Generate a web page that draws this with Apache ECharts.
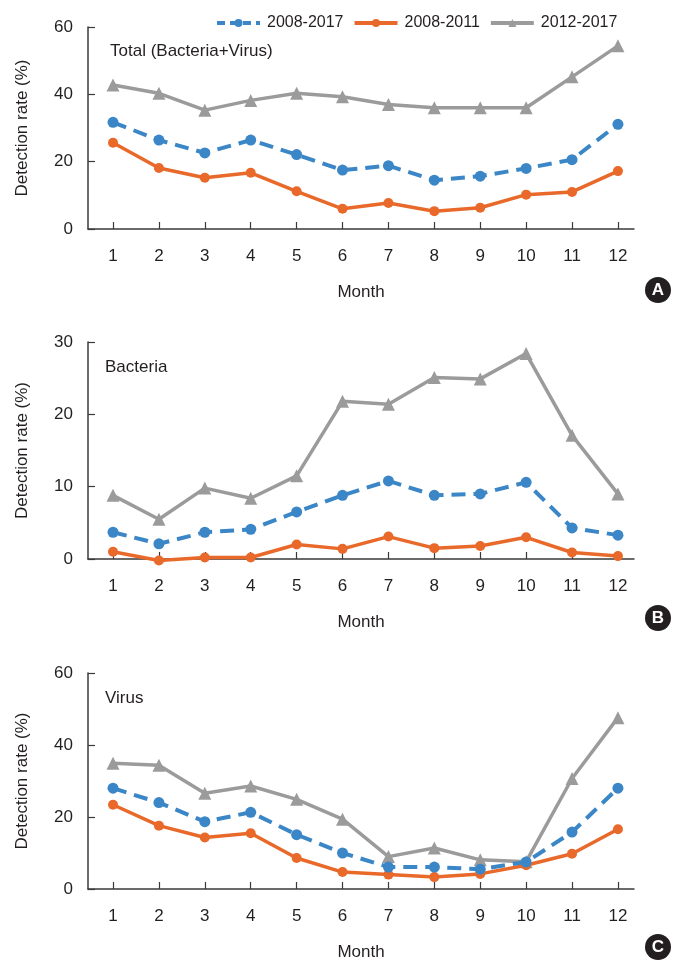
<!DOCTYPE html>
<html>
<head>
<meta charset="utf-8">
<script src="https://cdn.jsdelivr.net/npm/echarts@6/dist/echarts.min.js"></script>
<style>html,body{margin:0;padding:0;background:#fff}#c{width:684px;height:962px}</style>
</head>
<body>
<div id="c"></div>
<script>
// ---- data ----
const months = [1,2,3,4,5,6,7,8,9,10,11,12];
const seriesNames = ['2008-2017','2008-2011','2012-2017'];
const panelTitles = ['Total (Bacteria+Virus)','Bacteria','Virus'];
const monthTicks = [1,2,3,4,5,6,7,8,9,10,11,12];

const totalAll   = [31.7,26.4,22.6,26.4,22.1,17.5,18.8,14.5,15.7,18.0,20.6,31.1];
const totalEarly = [25.6,18.1,15.2,16.7,11.2,6.0,7.7,5.3,6.3,10.2,11.0,17.2];
const totalLate  = [42.8,40.3,35.3,38.2,40.3,39.3,37.0,36.0,36.0,36.0,45.2,54.4];

const bactAll    = [3.7,2.1,3.7,4.1,6.5,8.8,10.8,8.8,9.0,10.6,4.3,3.3];
const bactEarly  = [1.0,-0.2,0.2,0.2,2.0,1.4,3.1,1.5,1.8,3.0,0.9,0.4];
const bactLate   = [8.8,5.5,9.8,8.4,11.5,21.8,21.4,25.1,24.9,28.4,17.1,9.0];

const virusAll   = [28.0,24.0,18.7,21.3,15.1,10.0,6.1,6.1,5.5,7.5,15.8,28.0];
const virusEarly = [23.4,17.6,14.3,15.5,8.6,4.7,4.0,3.3,4.2,6.6,9.8,16.6];
const virusLate  = [34.9,34.4,26.6,28.6,24.9,19.4,9.0,11.4,8.1,7.6,30.7,47.6];

const yMax = [60,30,60];
const yInterval = [20,10,20];

// ---- styles ----
const FONT = '"Liberation Sans", Arial, sans-serif';
const TXT = '#231f20';
const AX = '#3a3a3a';
const BLUE = '#3b86c6', ORANGE = '#e8692a', GRAY = '#9b9b9b';

const grids = [
  {left:88, right:50, top:27,  height:202},
  {left:88, right:50, top:342, height:217},
  {left:88, right:50, top:673, height:216}
];

const panels = [
  [totalAll,totalEarly,totalLate],
  [bactAll,bactEarly,bactLate],
  [virusAll,virusEarly,virusLate]
];

const xAxes = grids.map((g,i)=>({
  type:'value', gridIndex:i, min:0.455, max:12.35,
  name:'Month', nameLocation:'middle', nameGap:55,
  nameTextStyle:{fontSize:17, color:TXT, fontFamily:FONT},
  axisLine:{show:true, lineStyle:{color:AX, width:1.5}},
  axisTick:{show:true, inside:true, length:7, lineStyle:{color:AX, width:1.2}, customValues:monthTicks},
  axisLabel:{fontSize:17, color:TXT, fontFamily:FONT, margin:19, customValues:monthTicks},
  splitLine:{show:false}
}));

const yAxes = grids.map((g,i)=>({
  type:'value', gridIndex:i, min:0, max:yMax[i], interval:yInterval[i],
  name:'Detection rate (%)', nameLocation:'middle', nameGap:57, nameRotate:90,
  nameTextStyle:{fontSize:17, color:TXT, fontFamily:FONT},
  axisLine:{show:true, lineStyle:{color:AX, width:1.5}},
  axisTick:{show:true, inside:true, length:7, lineStyle:{color:AX, width:1.2}},
  axisLabel:{fontSize:17, color:TXT, fontFamily:FONT, margin:15},
  splitLine:{show:false}
}));

const styles = [
  {color:BLUE, type:[14,8], symbol:'circle', size:11, width:4},
  {color:ORANGE, type:'solid', symbol:'circle', size:10, width:3.5},
  {color:GRAY, type:'solid', symbol:'triangle', size:13, width:3.5}
];

const series = [];
panels.forEach((p,pi)=>{
  p.forEach((vals,si)=>{
    const st = styles[si];
    series.push({
      name: seriesNames[si], type:'line', xAxisIndex:pi, yAxisIndex:pi,
      data: months.map((m,k)=>[m, vals[k]]),
      symbol: st.symbol, symbolSize: st.size, clip:false,
      itemStyle:{color: st.color},
      lineStyle:{color: st.color, width: st.width, type: st.type},
      z: 3 - si
    });
  });
});

const letters = [['A',290],['B',618],['C',947]];
const graphic = [];
letters.forEach(([t,y])=>{
  graphic.push({type:'circle', shape:{cx:658, cy:y, r:13}, style:{fill:'#231f20'}});
  graphic.push({type:'text', x:658, y:y, style:{text:t, fill:'#fff', font:'bold 17px '+FONT, align:'center', verticalAlign:'middle'}});
});

const titles = [
  {text:panelTitles[0], left:110, top:43},
  {text:panelTitles[1], left:105, top:359},
  {text:panelTitles[2], left:105, top:690}
].map(t=>Object.assign(t,{padding:0, textStyle:{fontSize:17, fontWeight:'normal', color:TXT, fontFamily:FONT}}));

const legendData = seriesNames.map((n,i)=>({
  name:n,
  lineStyle:{width:4, color:styles[i].color, type: i===0 ? [8,5] : 'solid'}
}));

const chart = echarts.init(document.getElementById('c'), null, {renderer:'canvas'});
chart.setOption({
  animation:false,
  backgroundColor:'#fff',
  title: titles,
  legend:{
    data: legendData, left:210, top:10, itemWidth:43, itemHeight:10, itemGap:9,
    textStyle:{fontSize:16, color:TXT, fontFamily:FONT, padding:[0,0,0,2]}
  },
  grid: grids,
  xAxis: xAxes,
  yAxis: yAxes,
  series: series,
  graphic: graphic
});
</script>
</body>
</html>
